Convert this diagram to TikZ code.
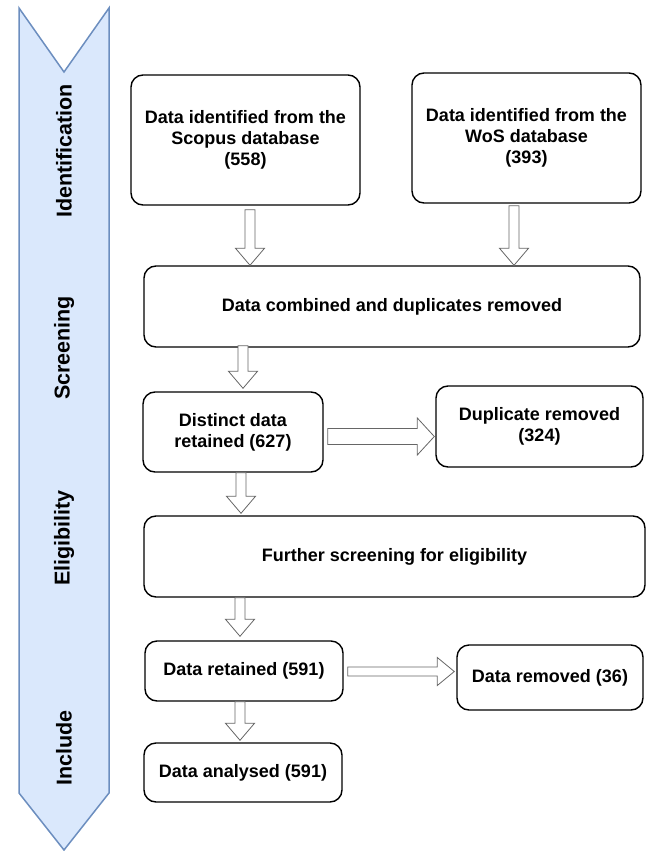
\documentclass[tikz,border=0pt]{standalone}
\usepackage{fontspec}
\setmainfont{Liberation Sans}
\usetikzlibrary{calc}

\definecolor{phasefill}{RGB}{218,232,252}
\definecolor{phaseline}{RGB}{108,142,191}

\tikzset{
  box/.style={draw, line width=1.4pt, rounded corners=12pt, align=center, inner sep=0pt,
    font=\fontsize{18}{21}\selectfont\bfseries},
  phase/.style={rotate=90, font=\fontsize{21.5}{24}\selectfont\bfseries},
  arrowbox/.style={draw=black!60, fill=white, line width=0.8pt},
  % hollow block arrows: shaft half width, head half width
  downarr/.style n args={2}{to path={let \p1=(\tikztostart), \p2=(\tikztotarget) in
    (\x1-#1,\y1) -- (\x1-#1,\y2+17pt) -- (\x1-#2,\y2+17pt) -- (\x1,\y2)
    -- (\x1+#2,\y2+17pt) -- (\x1+#1,\y2+17pt) -- (\x1+#1,\y1) -- cycle}},
  rightarr/.style n args={2}{to path={let \p1=(\tikztostart), \p2=(\tikztotarget) in
    (\x1,\y1+#1) -- (\x2-17pt,\y1+#1) -- (\x2-17pt,\y1+#2) -- (\x2,\y1)
    -- (\x2-17pt,\y1-#2) -- (\x2-17pt,\y1-#1) -- (\x1,\y1-#1) -- cycle}}
}

\begin{document}
\begin{tikzpicture}[x=1pt,y=-1pt]
\useasboundingbox (0,0) rectangle (647,851);

% phase band
\filldraw[fill=phasefill, draw=phaseline, line width=1.5pt]
  (19,8) -- (64,72) -- (109,8) -- (109,793) -- (64,850) -- (19,793) -- cycle;
\node[phase] (lblident) at (64,151) {Identification};
\node[phase] (lblscreen) at (64,348) {Screening};
\node[phase] (lbleligib) at (64,538) {Eligibility};
\node[phase] (lblinclude) at (64,748) {Include};

% boxes
\node[box, minimum width=229pt, minimum height=130pt] (scopus) at (245.5,140)
  {Data identified from the\\Scopus database\\(558)};
\node[box, minimum width=229pt, minimum height=130pt] (wos) at (526.5,138)
  {Data identified from the\\WoS database\\(393)};
\node[box, minimum width=496pt, minimum height=81pt] (comb) at (392,306.5)
  {Data combined and duplicates removed};
\node[box, minimum width=180pt, minimum height=80pt] (distinct) at (233,432)
  {Distinct data\\retained (627)};
\node[box, minimum width=207pt, minimum height=81pt] (dup) at (539.5,426.5)
  {Duplicate removed\\(324)};
\node[box, minimum width=501pt, minimum height=81pt] (further) at (394.5,556.5)
  {Further screening for eligibility};
\node[box, minimum width=198pt, minimum height=60pt] (retained) at (244,671)
  {Data retained (591)};
\node[box, minimum width=186pt, minimum height=65pt] (removed) at (550,677.5)
  {Data removed (36)};
\node[box, minimum width=198pt, minimum height=59pt] (analysed) at (243,772.5)
  {Data analysed (591)};

% arrows
\draw[arrowbox] ($(scopus.south)+(4.5,4)$) to[downarr={5pt}{14.5pt}] (comb.north);
\draw[arrowbox] ($(wos.south)+(-12.5,2)$) to[downarr={5pt}{14.5pt}] (comb.north);
\draw[arrowbox] ($(distinct.north |- comb.south)+(10,-2)$) to[downarr={5pt}{14.5pt}] ($(distinct.north)+(0,-3)$);
\draw[arrowbox] ($(distinct.east)+(4,4.5)$) to[rightarr={8pt}{18.5pt}] ($(dup.west)+(-1,0)$);
\draw[arrowbox] ($(distinct.south)+(8,0)$) to[downarr={5pt}{14.5pt}] ($(further.north)+(0,-2)$);
\draw[arrowbox] ($(retained.north |- further.south)+(-4,0)$) to[downarr={5pt}{14.5pt}] ($(retained.north)+(0,-4)$);
\draw[arrowbox] ($(retained.east)+(4,0.5)$) to[rightarr={4.5pt}{14pt}] ($(removed.west)+(-2,0)$);
\draw[arrowbox] ($(retained.south)+(-4,0)$) to[downarr={5pt}{14.5pt}] ($(analysed.north)+(0,-2)$);
\end{tikzpicture}
\end{document}
